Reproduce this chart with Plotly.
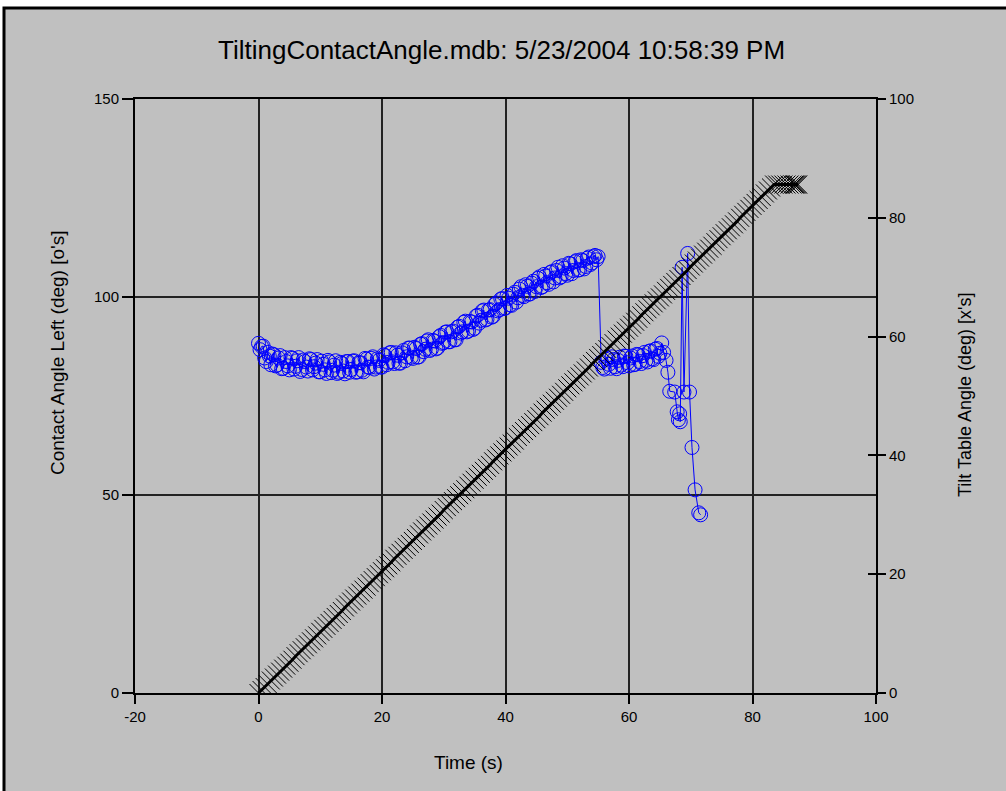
import plotly.graph_objects as go

# ---------------- data ----------------
# contact angle, rising part (samples on the half second)
ca_time_1 = [
    0.0, 0.5, 1.0, 1.5, 2.0, 2.5, 3.0, 3.5, 4.0, 4.5,
    5.0, 5.5, 6.0, 6.5, 7.0, 7.5, 8.0, 8.5, 9.0, 9.5,
    10.0, 10.5, 11.0, 11.5, 12.0, 12.5, 13.0, 13.5, 14.0, 14.5,
    15.0, 15.5, 16.0, 16.5, 17.0, 17.5, 18.0, 18.5, 19.0, 19.5,
    20.0, 20.5, 21.0, 21.5, 22.0, 22.5, 23.0, 23.5, 24.0, 24.5,
    25.0, 25.5, 26.0, 26.5, 27.0, 27.5, 28.0, 28.5, 29.0, 29.5,
    30.0, 30.5, 31.0, 31.5, 32.0, 32.5, 33.0, 33.5, 34.0, 34.5,
    35.0, 35.5, 36.0, 36.5, 37.0, 37.5, 38.0, 38.5, 39.0, 39.5,
    40.0, 40.5, 41.0, 41.5, 42.0, 42.5, 43.0, 43.5, 44.0, 44.5,
    45.0, 45.5, 46.0, 46.5, 47.0, 47.5, 48.0, 48.5, 49.0, 49.5,
    50.0, 50.5, 51.0, 51.5, 52.0, 52.5, 53.0, 53.5, 54.0, 54.5,
    55.0,
]
ca_value_1 = [
    88.3, 87.5, 84.6, 86.0, 82.9, 85.4, 82.8, 85.2, 82.0, 83.7,
    81.6, 84.5, 82.5, 84.7, 81.7, 83.7, 81.3, 84.2, 82.4, 84.2,
    81.1, 83.0, 80.7, 83.6, 81.5, 83.9, 81.0, 83.2, 80.6, 83.7,
    81.7, 83.9, 81.1, 83.4, 81.1, 84.3, 82.2, 84.9, 82.3, 84.0,
    82.3, 85.2, 83.5, 86.0, 83.2, 85.3, 83.3, 86.5, 84.9, 87.1,
    84.5, 87.0, 84.9, 88.2, 86.8, 89.2, 86.8, 88.9, 87.1, 90.3,
    88.5, 91.2, 88.7, 91.4, 89.2, 92.6, 91.2, 93.9, 91.4, 93.7,
    92.1, 95.4, 94.1, 96.7, 94.4, 96.8, 95.1, 98.5, 96.8, 99.6,
    97.2, 99.7, 97.9, 101.2, 99.8, 102.6, 100.1, 102.7, 100.8, 104.0,
    102.6, 105.1, 102.6, 105.3, 103.2, 106.4, 104.8, 107.5, 105.1, 107.3,
    105.5, 108.4, 106.7, 109.2, 106.9, 109.2, 107.7, 110.1, 108.6, 110.5,
    110.2,
]
# contact angle, rising part (samples on the quarter second)
ca_time_1b = [
    0.25, 0.75, 1.25, 1.75, 2.25, 2.75, 3.25, 3.75, 4.25, 4.75,
    5.25, 5.75, 6.25, 6.75, 7.25, 7.75, 8.25, 8.75, 9.25, 9.75,
    10.25, 10.75, 11.25, 11.75, 12.25, 12.75, 13.25, 13.75, 14.25, 14.75,
    15.25, 15.75, 16.25, 16.75, 17.25, 17.75, 18.25, 18.75, 19.25, 19.75,
    20.25, 20.75, 21.25, 21.75, 22.25, 22.75, 23.25, 23.75, 24.25, 24.75,
    25.25, 25.75, 26.25, 26.75, 27.25, 27.75, 28.25, 28.75, 29.25, 29.75,
    30.25, 30.75, 31.25, 31.75, 32.25, 32.75, 33.25, 33.75, 34.25, 34.75,
    35.25, 35.75, 36.25, 36.75, 37.25, 37.75, 38.25, 38.75, 39.25, 39.75,
    40.25, 40.75, 41.25, 41.75, 42.25, 42.75, 43.25, 43.75, 44.25, 44.75,
    45.25, 45.75, 46.25, 46.75, 47.25, 47.75, 48.25, 48.75, 49.25, 49.75,
    50.25, 50.75, 51.25, 51.75, 52.25, 52.75, 53.25, 53.75, 54.25, 54.75,
]
ca_value_1b = [
    86.7, 87.6, 83.7, 85.1, 85.6, 82.6, 84.6, 81.9, 84.7, 82.6,
    84.7, 81.8, 83.9, 81.2, 84.1, 82.3, 84.4, 81.6, 83.3, 81.1,
    83.8, 81.6, 84.0, 80.9, 82.8, 80.7, 83.5, 81.3, 83.7, 81.0,
    83.8, 81.0, 83.4, 81.5, 84.5, 82.3, 84.5, 81.8, 84.4, 82.3,
    85.4, 82.9, 85.9, 83.6, 85.9, 83.3, 85.9, 83.9, 87.1, 84.8,
    87.3, 84.8, 88.1, 86.2, 88.9, 86.5, 89.0, 86.9, 90.0, 88.3,
    91.1, 88.7, 91.2, 89.2, 92.4, 90.9, 93.6, 91.2, 93.8, 91.8,
    95.2, 93.4, 96.5, 94.2, 96.7, 94.9, 98.1, 96.5, 99.5, 97.1,
    100.4, 98.0, 100.7, 98.7, 102.0, 100.4, 103.1, 100.7, 103.5, 101.4,
    104.7, 102.4, 105.7, 103.6, 106.2, 103.8, 106.7, 104.8, 107.9, 105.9,
    108.5, 105.9, 108.9, 106.8, 109.4, 107.1, 109.8, 108.2, 110.2, 109.4,
]
# contact angle after the jump, then the final collapse
ca_time_2 = [
    55.5, 56.0, 56.5, 57.0, 57.5, 58.0, 58.5, 59.0, 59.5, 60.0,
    60.5, 61.0, 61.5, 62.0, 62.5, 63.0, 63.5, 64.0, 64.5, 65.0,
    65.3, 65.6, 66.0, 66.3, 66.6, 67.4, 67.8, 68.0, 68.2, 68.3,
    68.6, 68.9, 69.5, 69.8, 70.2, 70.7, 71.3, 71.6,
]
ca_value_2 = [
    83.5, 81.8, 84.6, 82.0, 84.2, 81.9, 84.8, 82.4, 85.0, 82.6,
    85.1, 83.0, 85.4, 83.2, 86.0, 83.6, 86.4, 84.2, 87.0, 85.8,
    88.4, 86.0, 84.0, 81.0, 76.2, 76.0, 71.0, 69.0, 70.5, 68.5,
    107.5, 76.0, 111.0, 76.0, 62.0, 51.3, 45.5, 45.0,
]
ca_time_2b = [
    55.75, 56.25, 56.75, 57.25, 57.75, 58.25, 58.75, 59.25, 59.75, 60.25,
    60.75, 61.25, 61.75, 62.25, 62.75, 63.25, 63.75, 64.25, 64.75,
]
ca_value_2b = [
    82.2, 84.3, 83.0, 84.9, 82.4, 84.0, 82.8, 85.1, 83.4, 84.6,
    82.9, 85.5, 83.7, 85.2, 84.0, 86.3, 84.4, 86.8, 85.0,
]

tilt_time = [
    0.0, 0.5, 1.0, 1.5, 2.0, 2.5, 3.0, 3.5, 4.0, 4.5,
    5.0, 5.5, 6.0, 6.5, 7.0, 7.5, 8.0, 8.5, 9.0, 9.5,
    10.0, 10.5, 11.0, 11.5, 12.0, 12.5, 13.0, 13.5, 14.0, 14.5,
    15.0, 15.5, 16.0, 16.5, 17.0, 17.5, 18.0, 18.5, 19.0, 19.5,
    20.0, 20.5, 21.0, 21.5, 22.0, 22.5, 23.0, 23.5, 24.0, 24.5,
    25.0, 25.5, 26.0, 26.5, 27.0, 27.5, 28.0, 28.5, 29.0, 29.5,
    30.0, 30.5, 31.0, 31.5, 32.0, 32.5, 33.0, 33.5, 34.0, 34.5,
    35.0, 35.5, 36.0, 36.5, 37.0, 37.5, 38.0, 38.5, 39.0, 39.5,
    40.0, 40.5, 41.0, 41.5, 42.0, 42.5, 43.0, 43.5, 44.0, 44.5,
    45.0, 45.5, 46.0, 46.5, 47.0, 47.5, 48.0, 48.5, 49.0, 49.5,
    50.0, 50.5, 51.0, 51.5, 52.0, 52.5, 53.0, 53.5, 54.0, 54.5,
    55.0, 55.5, 56.0, 56.5, 57.0, 57.5, 58.0, 58.5, 59.0, 59.5,
    60.0, 60.5, 61.0, 61.5, 62.0, 62.5, 63.0, 63.5, 64.0, 64.5,
    65.0, 65.5, 66.0, 66.5, 67.0, 67.5, 68.0, 68.5, 69.0, 69.5,
    70.0, 70.5, 71.0, 71.5, 72.0, 72.5, 73.0, 73.5, 74.0, 74.5,
    75.0, 75.5, 76.0, 76.5, 77.0, 77.5, 78.0, 78.5, 79.0, 79.5,
    80.0, 80.5, 81.0, 81.5, 82.0, 82.5, 83.0, 83.5,
    84.0, 84.5, 85.0, 85.5, 86.0, 86.5, 86.8, 87.0, 87.2, 87.4,
]
tilt_value = [
    0.0, 0.5, 1.0, 1.5, 2.1, 2.6, 3.1, 3.6, 4.1, 4.6,
    5.1, 5.6, 6.2, 6.7, 7.2, 7.7, 8.2, 8.7, 9.2, 9.7,
    10.3, 10.8, 11.3, 11.8, 12.3, 12.8, 13.3, 13.8, 14.4, 14.9,
    15.4, 15.9, 16.4, 16.9, 17.4, 17.9, 18.5, 19.0, 19.5, 20.0,
    20.5, 21.0, 21.5, 22.0, 22.6, 23.1, 23.6, 24.1, 24.6, 25.1,
    25.6, 26.1, 26.7, 27.2, 27.7, 28.2, 28.7, 29.2, 29.7, 30.2,
    30.8, 31.3, 31.8, 32.3, 32.8, 33.3, 33.8, 34.3, 34.9, 35.4,
    35.9, 36.4, 36.9, 37.4, 37.9, 38.4, 39.0, 39.5, 40.0, 40.5,
    41.0, 41.5, 42.0, 42.5, 43.1, 43.6, 44.1, 44.6, 45.1, 45.6,
    46.1, 46.6, 47.2, 47.7, 48.2, 48.7, 49.2, 49.7, 50.2, 50.7,
    51.3, 51.8, 52.3, 52.8, 53.3, 53.8, 54.3, 54.8, 55.4, 55.9,
    56.4, 56.9, 57.4, 57.9, 58.4, 58.9, 59.5, 60.0, 60.5, 61.0,
    61.5, 62.0, 62.5, 63.0, 63.6, 64.1, 64.6, 65.1, 65.6, 66.1,
    66.6, 67.1, 67.7, 68.2, 68.7, 69.2, 69.7, 70.2, 70.7, 71.2,
    71.8, 72.3, 72.8, 73.3, 73.8, 74.3, 74.8, 75.3, 75.9, 76.4,
    76.9, 77.4, 77.9, 78.4, 78.9, 79.4, 80.0, 80.5, 81.0, 81.5,
    82.0, 82.5, 83.0, 83.5, 84.1, 84.6, 85.1, 85.6,
    85.6, 85.6, 85.6, 85.6, 85.6, 85.6, 85.6, 85.6, 85.6, 85.6,
]

x_ticks = [-20, 0, 20, 40, 60, 80, 100]
y_left_ticks = [0, 50, 100, 150]
y_right_ticks = [0, 20, 40, 60, 80, 100]
y_right_inner_ticks = [20, 40, 60, 80]

title_text = "TiltingContactAngle.mdb: 5/23/2004 10:58:39 PM"
x_label = "Time (s)"
y_left_label = "Contact Angle Left (deg) [o's]"
y_right_label = "Tilt Table Angle (deg) [x's]"

# ---------------- figure ----------------
FONT = "Liberation Sans, Arial, sans-serif"
BLUE = "#0000ff"
W, H = 1006, 791
L, R, T, B = 135, 130, 99, 98
PW, PH = W - L - R, H - T - B


def px(xp):
    return (xp - L) / PW


def py(yp):
    return 1 - (yp - T) / PH


# merge the half-second and quarter-second samples in time order
pairs = sorted(zip(ca_time_1 + ca_time_1b + ca_time_2 + ca_time_2b,
                   ca_value_1 + ca_value_1b + ca_value_2 + ca_value_2b))
ca_time = [p[0] for p in pairs]
ca_value = [p[1] for p in pairs]

fig = go.Figure()
fig.add_trace(go.Scatter(
    x=ca_time, y=ca_value, mode="lines+markers",
    line=dict(color=BLUE, width=1),
    marker=dict(symbol="circle-open", size=14, color=BLUE, line=dict(width=1, color=BLUE)),
    showlegend=False, hoverinfo="skip",
))
fig.add_trace(go.Scatter(
    x=tilt_time, y=tilt_value, yaxis="y2", mode="lines+markers",
    line=dict(color="black", width=3),
    marker=dict(symbol="x-thin-open", size=18, color="black", line=dict(width=1, color="#111")),
    showlegend=False, hoverinfo="skip",
))
fig.add_trace(go.Scatter(x=[], y=[], yaxis="y3", showlegend=False, hoverinfo="skip"))

tickfont = dict(family=FONT, size=15, color="black")
fig.update_layout(
    width=W, height=H,
    margin=dict(l=L, r=R, t=T, b=B, pad=0),
    paper_bgcolor="white",
    plot_bgcolor="rgba(0,0,0,0)",
    xaxis=dict(
        range=[-20, 100], tickvals=x_ticks, ticktext=[str(v) for v in x_ticks],
        ticks="outside", ticklen=9, tickwidth=1.5, tickcolor="black",
        showgrid=True, gridcolor="#222", gridwidth=2,
        showline=True, linecolor="black", linewidth=2, mirror=True,
        zeroline=False, tickfont=tickfont,
    ),
    yaxis=dict(
        range=[0, 150], tickvals=y_left_ticks,
        ticks="outside", ticklen=11, tickwidth=1.5, tickcolor="black",
        showgrid=True, gridcolor="#222", gridwidth=2,
        showline=True, linecolor="black", linewidth=2,
        zeroline=False, tickfont=tickfont,
    ),
    yaxis2=dict(
        range=[0, 100], tickvals=y_right_ticks, overlaying="y", side="right",
        ticks="outside", ticklen=8, tickwidth=1.5, tickcolor="black",
        showgrid=False, showline=True, linecolor="black", linewidth=2,
        zeroline=False, tickfont=tickfont,
    ),
    yaxis3=dict(
        range=[0, 100], tickvals=y_right_inner_ticks, overlaying="y", side="right",
        anchor="x", ticks="inside", ticklen=8, tickwidth=1.5, tickcolor="black",
        showticklabels=False, showgrid=False, showline=False, zeroline=False,
    ),
    shapes=[dict(
        type="rect", xref="paper", yref="paper",
        x0=px(4), x1=px(1030), y0=py(815), y1=py(8),
        fillcolor="#c0c0c0", line=dict(color="black", width=3), layer="below",
    )],
    annotations=[
        dict(text=title_text, xref="paper", yref="paper", x=px(501), y=py(50),
             showarrow=False, xanchor="center", yanchor="middle",
             font=dict(family=FONT, size=26, color="black")),
        dict(text=x_label, xref="paper", yref="paper", x=px(468), y=py(762),
             showarrow=False, xanchor="center", yanchor="middle",
             font=dict(family=FONT, size=19, color="black")),
        dict(text=y_left_label, xref="paper", yref="paper", x=px(57), y=py(353),
             showarrow=False, xanchor="center", yanchor="middle", textangle=-90,
             font=dict(family=FONT, size=19, color="black")),
        dict(text=y_right_label, xref="paper", yref="paper", x=px(965), y=py(394),
             showarrow=False, xanchor="center", yanchor="middle", textangle=-90,
             font=dict(family=FONT, size=18, color="black")),
    ],
)

fig.write_html(
    "out.html",
    config={"displayModeBar": False},
    post_script="document.body.style.margin='0';document.body.style.overflow='hidden';",
)
